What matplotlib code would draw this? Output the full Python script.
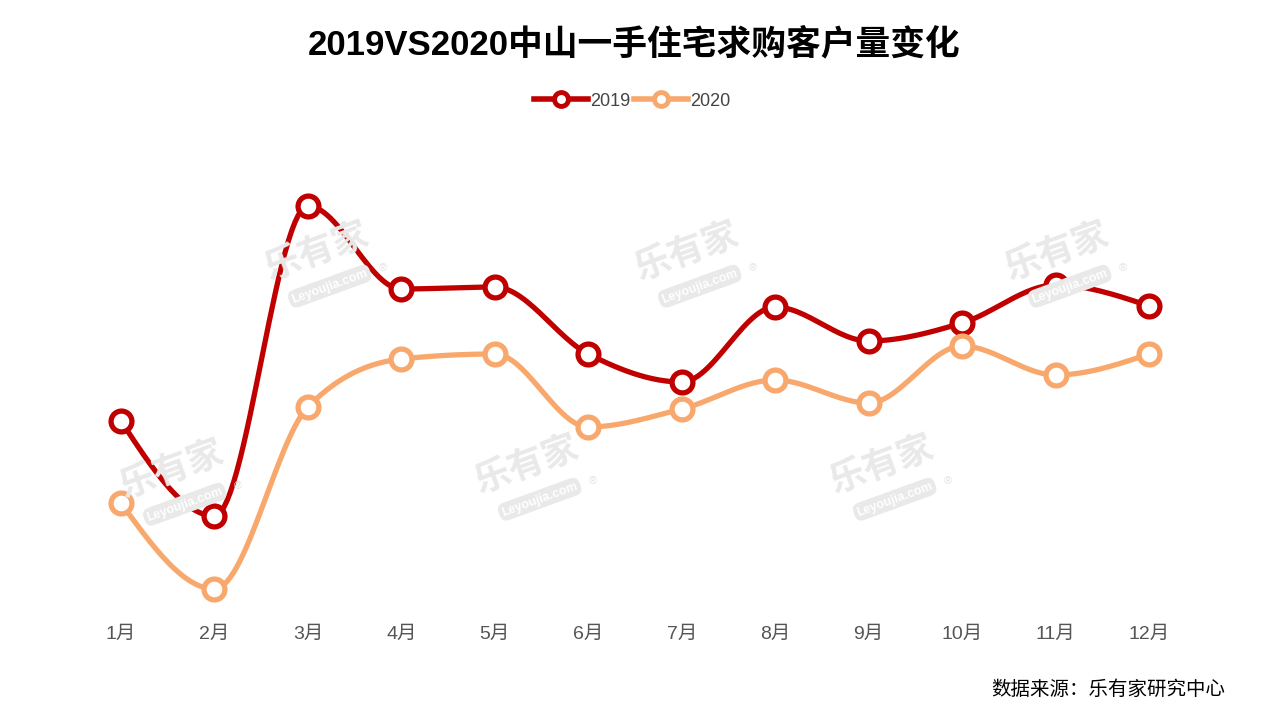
import numpy as np
import matplotlib
matplotlib.use("Agg")
import matplotlib.pyplot as plt
from matplotlib.lines import Line2D

plt.rcParams['font.family'] = ['Liberation Sans', 'Noto Sans CJK SC', 'DejaVu Sans']

# data (no y axis shown so the scale is relative)
months = ["1月", "2月", "3月", "4月", "5月", "6月", "7月", "8月", "9月", "10月", "11月", "12月"]
v2019 = [199, 104, 414, 331, 333, 266, 238, 313, 279, 297, 335, 314]
v2020 = [117, 31, 213, 261, 266, 193, 211, 240, 217, 274, 245, 266]

C2019 = "#c00000"
C2020 = "#f8a86c"

W, H = 1281, 712
fig = plt.figure(figsize=(W / 100, H / 100), dpi=100)
ax_left, ax_right, ax_bottom, ax_top = 121, 1149, 620, 180
ax = fig.add_axes([ax_left / W, (H - ax_bottom) / H,
                   (ax_right - ax_left) / W, (ax_bottom - ax_top) / H])
ax.set_xlim(0, len(months) - 1)
ax.set_ylim(0, 440)


def monotone_curve(xs, ys, n=30):
    # monotone cubic (like d3 curveMonotoneX), only used to draw the line
    xs = np.asarray(xs, float)
    ys = np.asarray(ys, float)
    h = np.diff(xs)
    s = np.diff(ys) / h
    m = np.zeros(len(xs))
    for i in range(1, len(xs) - 1):
        if s[i - 1] * s[i] <= 0:
            m[i] = 0
        else:
            p = (s[i - 1] * h[i] + s[i] * h[i - 1]) / (h[i - 1] + h[i])
            m[i] = np.sign(s[i - 1]) * min(abs(s[i - 1]), abs(s[i]), 0.5 * abs(p)) * 2
    m[0] = (3 * s[0] - m[1]) / 2
    m[-1] = (3 * s[-1] - m[-2]) / 2
    out_x, out_y = [], []
    t = np.linspace(0, 1, n)
    for i in range(len(xs) - 1):
        x0, x1 = xs[i], xs[i + 1]
        dx = (x1 - x0) / 3
        P = [(x0, ys[i]), (x0 + dx, ys[i] + m[i] * dx),
             (x1 - dx, ys[i + 1] - m[i + 1] * dx), (x1, ys[i + 1])]
        bx = ((1 - t) ** 3) * P[0][0] + 3 * (1 - t) ** 2 * t * P[1][0] + 3 * (1 - t) * t ** 2 * P[2][0] + t ** 3 * P[3][0]
        by = ((1 - t) ** 3) * P[0][1] + 3 * (1 - t) ** 2 * t * P[1][1] + 3 * (1 - t) * t ** 2 * P[2][1] + t ** 3 * P[3][1]
        if i > 0:
            bx, by = bx[1:], by[1:]
        out_x.append(bx)
        out_y.append(by)
    return np.concatenate(out_x), np.concatenate(out_y)


# watermarks
for (px, py) in [(322, 262), (692, 262), (1062, 262), (177, 480), (532, 475), (887, 475)]:
    fx, fy = px / W, 1 - py / H
    fig.text(fx - 0.004, fy + 0.014, "乐有家", fontsize=26, fontweight='bold', color="#e9e9e9",
             rotation=20, ha='center', va='center', family=['Noto Sans CJK SC'], zorder=0)
    fig.text(fx + 0.006, fy - 0.034, "Leyoujia.com", fontsize=9, fontweight='bold', color="white",
             rotation=20, ha='center', va='center', zorder=0,
             bbox=dict(boxstyle="round,pad=0.25,rounding_size=0.6", fc="#e9e9e9", ec="none"))
    fig.text(fx + 61 / W, fy - 6 / H, "®", fontsize=8, color="#e3e3e3", ha='center',
             va='center', zorder=0)

x = np.arange(len(months))
for vals, col in [(v2019, C2019), (v2020, C2020)]:
    sx, sy = monotone_curve(x, vals)
    ax.plot(sx, sy, color=col, lw=3.8, solid_capstyle='round', clip_on=False, zorder=3)
    ax.plot(x, vals, ls='none', marker='o', ms=15, mfc='white', mec=col, mew=3.8,
            clip_on=False, zorder=4)

ax.set_xticks(x)
ax.set_xticklabels(months, fontsize=14, color="#555555")
ax.tick_params(axis='x', length=0, pad=4)
ax.set_yticks([])
for sp in ax.spines.values():
    sp.set_visible(False)
ax.patch.set_alpha(0)

fig.text(634 / W, 1 - 45 / H, "2019VS2020中山一手住宅求购客户量变化", fontsize=25,
         fontweight='bold', ha='center', va='center', color="#000000")

handles = [Line2D([], [], color=C2019, lw=4, marker='o', ms=10, mfc='white', mec=C2019, mew=3.5),
           Line2D([], [], color=C2020, lw=4, marker='o', ms=10, mfc='white', mec=C2020, mew=3.5)]
fig.legend(handles, ["2019", "2020"], loc='center', bbox_to_anchor=(632 / W, 1 - 101 / H),
           ncol=2, frameon=False, fontsize=13, handlelength=3.0, handletextpad=0.1,
           columnspacing=0.2, labelcolor="#444444")

fig.text(1225 / W, 1 - 689 / H, "数据来源：乐有家研究中心", fontsize=14, ha='right',
         va='center', color="#000000", family=['Noto Sans CJK SC'])

fig.savefig("out.png", dpi=100)
